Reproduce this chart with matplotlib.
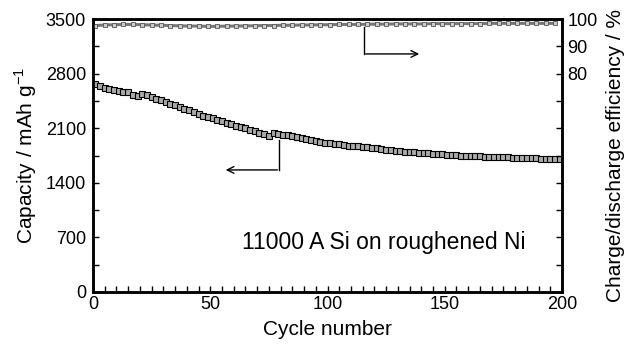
import matplotlib
matplotlib.use("Agg")
import matplotlib.pyplot as plt
from matplotlib.ticker import MultipleLocator, FixedLocator, FixedFormatter
import numpy as np

plt.rcParams['font.family'] = ['Liberation Sans', 'DejaVu Sans']

# capacity read every 2 cycles (mAh/g)
cap_cycles = list(range(1, 200, 2))
capacity = [2665, 2645, 2620, 2600, 2590, 2580, 2570, 2558, 2530, 2512,
            2540, 2530, 2505, 2480, 2462, 2440, 2415, 2392, 2370, 2350,
            2330, 2308, 2285, 2262, 2245, 2225, 2208, 2190, 2170, 2150,
            2132, 2118, 2100, 2080, 2060, 2040, 2020, 1995, 2035, 2030,
            2018, 2008, 1998, 1988, 1975, 1960, 1948, 1935, 1925, 1916,
            1908, 1900, 1892, 1885, 1878, 1872, 1866, 1860, 1853, 1846,
            1840, 1833, 1826, 1819, 1812, 1805, 1799, 1795, 1790, 1785,
            1780, 1776, 1772, 1768, 1764, 1760, 1756, 1753, 1750, 1748,
            1745, 1742, 1740, 1737, 1734, 1731, 1729, 1727, 1725, 1722,
            1720, 1718, 1716, 1714, 1712, 1710, 1708, 1705, 1703, 1700]

# coulombic efficiency read every 4 cycles (%)
eff_cycles = list(range(1, 201, 4))
efficiency = [97.6, 97.8, 97.9, 98.0, 98.0, 97.9, 97.8, 97.7, 97.6, 97.5,
              97.4, 97.4, 97.3, 97.3, 97.4, 97.4, 97.5, 97.5, 97.6, 97.6,
              97.7, 97.7, 97.8, 97.8, 97.9, 97.9, 98.0, 98.0, 98.0, 98.1,
              98.1, 98.1, 98.2, 98.2, 98.2, 98.2, 98.3, 98.3, 98.3, 98.3,
              98.3, 98.3, 98.4, 98.4, 98.4, 98.4, 98.4, 98.4, 98.4, 98.4]

cap_ticks = [0, 700, 1400, 2100, 2800, 3500]
eff_labels = ['', '', '', '', '', '', '', '', '80', '90', '100']

fig = plt.figure(figsize=(6.32, 3.44), dpi=100)
ax = fig.add_axes([93/632, 1 - 292/344, 469/632, 273/344])
ax2 = ax.twinx()

ax.plot(cap_cycles, capacity, color='black', lw=1.2, marker='s', markersize=4.4,
        markerfacecolor='#aaaaaa', markeredgecolor='black', markeredgewidth=0.8)
ax2.plot(eff_cycles, efficiency, color='#777777', lw=2.2, marker='s', markersize=3.2,
         markerfacecolor='#cccccc', markeredgecolor='#555555', markeredgewidth=0.6)

ax.set_xlim(0, 200)
ax.set_ylim(0, 3500)
ax2.set_ylim(0, 100)

ax.xaxis.set_major_locator(MultipleLocator(50))
ax.xaxis.set_minor_locator(MultipleLocator(5))
ax.yaxis.set_major_locator(FixedLocator(cap_ticks))
ax.yaxis.set_minor_locator(MultipleLocator(350))
ax2.yaxis.set_major_locator(FixedLocator(range(0, 101, 10)))
ax2.yaxis.set_major_formatter(FixedFormatter(eff_labels))

ax.tick_params(axis='both', which='both', direction='in', labelsize=13, width=1)
ax.tick_params(axis='x', which='both', length=4, pad=3)
ax.tick_params(axis='y', which='both', length=4, pad=5)
ax2.tick_params(axis='y', direction='in', length=4, width=1, labelsize=13, pad=4)

for a in (ax, ax2):
    for s in a.spines.values():
        s.set_linewidth(1.8)

ax.set_xlabel('Cycle number', fontsize=15, labelpad=5)
ax.set_ylabel('Capacity / mAh g$^{\\mathregular{-1}}$', fontsize=15, labelpad=5)
ax2.set_ylabel('Charge/discharge efficiency / %', fontsize=15, labelpad=6)

ax.text(0.621, 0.183, '11000 A Si on roughened Ni', transform=ax.transAxes,
        fontsize=16.5, ha='center', va='center')

# pointer arrows
ax.plot([79.3, 79.3], [1950, 1565], color='black', lw=1)
ax.annotate('', xy=(55.4, 1565), xytext=(79.8, 1565),
            arrowprops=dict(arrowstyle='->', color='black', lw=1, mutation_scale=12))
ax2.plot([115.6, 115.6], [97.0, 87.2], color='black', lw=1)
ax2.annotate('', xy=(140.3, 87.2), xytext=(115.1, 87.2),
             arrowprops=dict(arrowstyle='->', color='black', lw=1, mutation_scale=12))

fig.savefig('out.png', dpi=100)
